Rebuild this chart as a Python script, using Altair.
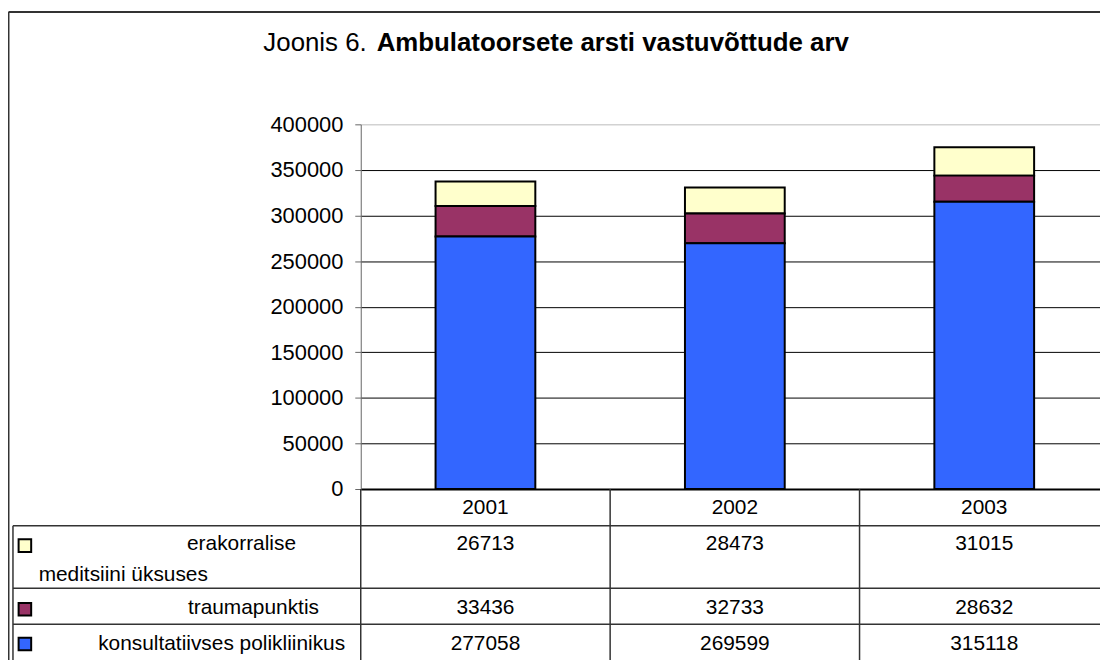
import altair as alt
import pandas as pd

# ---- data ----
years = ["2001", "2002", "2003"]
series = ["erakorralise meditsiini üksuses", "traumapunktis", "konsultatiivses polikliinikus"]
erakorralise = [26713, 28473, 31015]
traumapunktis = [33436, 32733, 28632]
konsultatiivses = [277058, 269599, 315118]
colors = ["#FFFFCC", "#993366", "#3366FF"]
y_ticks = [0, 50000, 100000, 150000, 200000, 250000, 300000, 350000, 400000]
title_plain = "Joonis 6."
title_bold = "Ambulatoorsete arsti vastuvõttude arv"
row_label_lines = [["erakorralise", "meditsiini üksuses"], ["traumapunktis"], ["konsultatiivses polikliinikus"]]

FONT = "Liberation Sans"

value_lists = [erakorralise, traumapunktis, konsultatiivses]
rows = []
for i, (s, vals) in enumerate(zip(series, value_lists)):
    for yr, v in zip(years, vals):
        rows.append({"year": yr, "series": s, "value": v, "stackorder": len(series) - 1 - i})
df = pd.DataFrame(rows)

# layout (view coordinates: origin at the plot area's top-left)
W, H = 753, 367
xscale = alt.Scale(domain=years, paddingInner=0, paddingOuter=0)
BOTTOM = 540  # bottom of drawing in view coords
dummy = pd.DataFrame({"k": [0]})

bars = alt.Chart(df).mark_bar(
    width=alt.RelativeBandSize(band=0.4), stroke="black", strokeWidth=2
).encode(
    x=alt.X("year:N", scale=xscale, sort=years,
            axis=alt.Axis(title=None, labelAngle=0, ticks=False, tickSize=0,
                          domainColor="black", domainWidth=2,
                          labelFont=FONT, labelFontSize=21, labelColor="black",
                          labelBaseline="middle", labelPadding=19, grid=False)),
    y=alt.Y("value:Q", stack="zero",
            scale=alt.Scale(domain=[0, 400000], nice=False, zero=True),
            axis=alt.Axis(title=None, values=y_ticks, format="d",
                          grid=True, gridWidth=1,
                          gridColor=alt.condition("datum.value == 400000", alt.value("#BBBBBB"), alt.value("black")),
                          domainColor="#666666", tickColor="#666666", tickSize=6,
                          labelFont=FONT, labelFontSize=22, labelColor="black",
                          labelPadding=12)),
    color=alt.Color("series:N", scale=alt.Scale(domain=series, range=colors), legend=None),
    order=alt.Order("stackorder:Q"),
)

layers = [bars]

# table column separators (at band boundaries)
colrules = alt.Chart(pd.DataFrame({"year": years})).mark_rule(color="#333333", strokeWidth=1.5).encode(
    x=alt.X("year:N", bandPosition=0),
    y=alt.value(H), y2=alt.value(BOTTOM),
)
layers.append(colrules)

# table horizontal lines and frame
def hline(y, x0, x1, color="#333333", w=1.5):
    return alt.Chart(dummy).mark_rule(color=color, strokeWidth=w).encode(
        x=alt.value(x0), x2=alt.value(x1), y=alt.value(y))

def vline(x, y0, y1, color="#333333", w=1.5):
    return alt.Chart(dummy).mark_rule(color=color, strokeWidth=w).encode(
        x=alt.value(x), y=alt.value(y0), y2=alt.value(y1))

layers += [
    hline(404, -350, W), hline(467, -350, W), hline(503, -350, W),
    vline(-350, 404, BOTTOM),
    hline(-113, -354.5, W, color="#333333", w=2),
    vline(-354.5, -113, BOTTOM, color="#333333", w=2),
]

# table values
row_y = [422, 487, 523]
for s, ry in zip(series, row_y):
    layers.append(
        alt.Chart(df[df["series"] == s]).mark_text(
            font=FONT, fontSize=21, color="black", baseline="middle", align="center"
        ).encode(x=alt.X("year:N", bandPosition=0.5), y=alt.value(ry), text=alt.Text("value:Q", format="d"))
    )

# row labels
label_pos = [[(-120, 422), (-239, 454)], [(-108, 487)], [(-140, 523)]]
for lines, poss in zip(row_label_lines, label_pos):
    for txt, (lx, ly) in zip(lines, poss):
        layers.append(
            alt.Chart(pd.DataFrame({"t": [txt]})).mark_text(
                font=FONT, fontSize=21, color="black", baseline="middle", align="center"
            ).encode(x=alt.value(lx), y=alt.value(ly), text="t:N")
        )

# legend keys in the table
key_y = [424, 488, 523]
for c, ky in zip(colors, key_y):
    layers.append(
        alt.Chart(dummy).mark_square(size=160, filled=True, stroke="black", strokeWidth=2, opacity=1).encode(
            x=alt.value(-338), y=alt.value(ky), fill=alt.value(c))
    )

# title (plain + bold parts)
layers.append(alt.Chart(pd.DataFrame({"t": [title_plain]})).mark_text(
    font=FONT, fontSize=26, color="black", align="left", baseline="alphabetic"
).encode(x=alt.value(-98), y=alt.value(-74), text="t:N"))
layers.append(alt.Chart(pd.DataFrame({"t": [title_bold]})).mark_text(
    font=FONT, fontSize=26, fontWeight="bold", color="black", align="left", baseline="alphabetic"
).encode(x=alt.value(16), y=alt.value(-74), text="t:N"))

chart = alt.layer(*layers).properties(
    width=W, height=H,
    padding={"left": 355, "top": 115, "right": -9, "bottom": 170},
    autosize=alt.AutoSizeParams(type="none"),
    background="white",
).configure_view(stroke=None)

chart.save("out.html", embed_options={"renderer": "svg", "actions": False})
